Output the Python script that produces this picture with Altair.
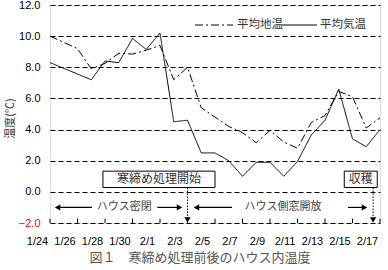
import altair as alt
import pandas as pd
import datetime as dt

# ---------------- data ----------------
series_names = ["平均地温", "平均気温"]

soil_dates = ["1/24", "1/26", "1/27", "1/28", "1/29", "1/30", "1/31", "2/1", "2/2", "2/3",
              "2/4", "2/5", "2/6", "2/7", "2/8", "2/9", "2/10", "2/11", "2/12", "2/13",
              "2/14", "2/15", "2/16", "2/17"]
soil_values = [10.0, 9.2, 7.9, 8.25, 8.9, 8.85, 9.1, 9.4, 7.2, 8.0,
               5.4, 4.8, 4.2, 3.8, 3.15, 3.95, 3.2, 2.8, 4.45, 4.9,
               6.45, 6.1, 4.1, 4.75]

air_dates = ["1/24", "1/27", "1/28", "1/29", "1/30", "1/31", "2/1", "2/2", "2/3",
             "2/4", "2/5", "2/6", "2/7", "2/8", "2/9", "2/10", "2/11", "2/12", "2/13",
             "2/14", "2/15", "2/16", "2/17"]
air_values = [8.3, 7.2, 8.4, 8.3, 9.85, 9.15, 10.2, 4.5, 4.6,
              2.5, 2.5, 2.0, 1.0, 1.9, 1.9, 1.0, 1.95, 3.65, 4.6,
              6.6, 3.4, 2.9, 4.0]

tick_labels = ["1/24", "1/26", "1/28", "1/30", "2/1", "2/3", "2/5", "2/7",
               "2/9", "2/11", "2/13", "2/15", "2/17"]
y_ticks = [-2, 0, 2, 4, 6, 8, 10, 12]

start = dt.date(2010, 1, 24)


def day_index(s):
    m, d = (int(p) for p in s.split("/"))
    return (dt.date(2010, m, d) - start).days


rows = []
for name, dates, vals in [(series_names[0], soil_dates, soil_values),
                          (series_names[1], air_dates, air_values)]:
    for d, v in zip(dates, vals):
        rows.append({"date": d, "day": day_index(d), "value": v, "series": name})
df = pd.DataFrame(rows)

tick_days = [day_index(t) for t in tick_labels]
ticks_df = pd.DataFrame({"day": tick_days, "label": tick_labels, "y": [-2] * len(tick_days)})

# annotations
boxes = pd.DataFrame({
    "label": ["寒締め処理開始", "収穫"],
    "x0": [3.85, 21.4], "x1": [12.0, 23.8],
    "y0": [0.28, 0.28], "y1": [1.33, 1.33],
})
boxes["xc"] = (boxes["x0"] + boxes["x1"]) / 2
boxes["yc"] = (boxes["y0"] + boxes["y1"]) / 2

vert_arrows = pd.DataFrame({"x": [day_index("2/3"), 23.5], "y0": [0.28, 0.28], "y1": [-1.72, -1.72],
                            "yh": [-1.8, -1.8]})

h_lines = pd.DataFrame({"x0": [0.5, 7.8, 10.7, 21.67], "x1": [3.05, 9.3, 13.24, 22.8],
                        "y": [-1.0] * 4})
h_heads = pd.DataFrame({"x": [0.55, 9.42, 10.65, 22.87], "y": [-1.0] * 4,
                        "shape": ["triangle-left", "triangle-right", "triangle-left", "triangle-right"]})
h_texts = pd.DataFrame({"label": ["ハウス密閉", "ハウス側窓開放"], "x": [5.4, 16.95], "y": [-1.0, -1.0]})

caption = "図１　寒締め処理前後のハウス内温度"

# ---------------- chart ----------------
JP = "Noto Sans CJK JP"
NUM = "Liberation Sans"
DASHES = [[8, 3, 2, 3], [1, 0]]

xscale = alt.Scale(domain=[0, 24], nice=False, zero=False)
yscale = alt.Scale(domain=[-2, 12], nice=False, zero=False)

x_axis = alt.Axis(values=tick_days, labels=False, ticks=False, domain=False, grid=False, title=None)
y_axis = alt.Axis(values=y_ticks, format=".1f", tickSize=0, domain=False, grid=True,
                  gridDash=[5, 3], gridColor="black", gridWidth=1, gridOpacity=1,
                  labelPadding=10, labelFont=NUM, labelFontSize=11,
                  labelColor=alt.expr("datum.value < 0 ? '#ff0000' : '#000000'"),
                  title="温度(℃)", titleFont=JP, titleFontSize=11, titleFontWeight="normal",
                  titleColor="#333333", titleX=-40, titleY=113, titleAlign="center",
                  titleBaseline="middle")


def X(f):
    return alt.X(f, type="quantitative", scale=xscale, axis=x_axis)


def Y(f):
    return alt.Y(f, type="quantitative", scale=yscale, axis=y_axis)


lines = alt.Chart(df).mark_line(color="black", strokeWidth=1).encode(
    x=X("day"),
    y=Y("value"),
    strokeDash=alt.StrokeDash("series:N", scale=alt.Scale(domain=series_names, range=DASHES),
                              legend=None),
    detail="series:N",
)

# legend (drawn by hand so that its layout matches)
legend_layers = []
leg_pos = [(145, 183, 187), (232, 267, 270)]
for name, dash, (s0, s1, tx) in zip(series_names, DASHES, leg_pos):
    legend_layers.append(
        alt.Chart(pd.DataFrame({"s": [name]})).mark_rule(color="black", strokeWidth=1, strokeDash=dash)
        .encode(x=alt.value(s0), x2=alt.value(s1), y=alt.value(20)))
    legend_layers.append(
        alt.Chart(pd.DataFrame({"s": [name]})).mark_text(font=JP, fontSize=11.5, color="#333333",
                                                          align="left", baseline="middle")
        .encode(x=alt.value(tx), y=alt.value(20), text="s:N"))

ticks = alt.Chart(ticks_df).mark_rule(color="black", strokeWidth=1).encode(
    x=X("day"), y=Y("y"), y2=alt.datum(-1.72),
)
tick_text = alt.Chart(ticks_df).mark_text(font=NUM, fontSize=11, color="black", dx=-12.5, dy=19).encode(
    x=X("day"), y=Y("y"), text="label:N",
)

box_rect = alt.Chart(boxes).mark_rect(fill="white", stroke="black", strokeWidth=1).encode(
    x=X("x0"), x2="x1:Q", y=Y("y0"), y2="y1:Q",
)
box_text = alt.Chart(boxes).mark_text(font=JP, fontSize=12, color="#333333").encode(
    x=X("xc"), y=Y("yc"), text="label:N",
)

v_rule = alt.Chart(vert_arrows).mark_rule(color="black", strokeWidth=1, strokeDash=[1.5, 1.5]).encode(
    x=X("x"), y=Y("y0"), y2="y1:Q",
)
v_head = alt.Chart(vert_arrows).mark_point(shape="triangle-down", filled=True, size=40,
                                           color="black", opacity=1).encode(
    x=X("x"), y=Y("yh"),
)

h_rule = alt.Chart(h_lines).mark_rule(color="black", strokeWidth=1.2).encode(
    x=X("x0"), x2="x1:Q", y=Y("y"),
)
h_head = alt.Chart(h_heads).mark_point(filled=True, size=40, color="black", opacity=1).encode(
    x=X("x"), y=Y("y"),
    shape=alt.Shape("shape:N", scale=None, legend=None),
)
h_text = alt.Chart(h_texts).mark_text(font=JP, fontSize=11, color="#444444").encode(
    x=X("x"), y=Y("y"), text="label:N",
)

cap = alt.Chart(pd.DataFrame({"t": [caption]})).mark_text(
    font=JP, fontSize=13, color="#555555").encode(
    x=alt.value(150), y=alt.value(253), text="t:N")

chart = alt.layer(lines, ticks, tick_text, box_rect, box_text, v_rule, v_head,
                  h_rule, h_head, h_text, cap, *legend_layers).properties(
    width=330, height=218,
    autosize=alt.AutoSizeParams(type="none"),
    padding={"left": 50, "top": 5, "right": 8, "bottom": 47},
).configure_view(stroke="black", strokeWidth=1).configure(background="white")

chart.save("out.html", embed_options={"renderer": "svg", "actions": False})
